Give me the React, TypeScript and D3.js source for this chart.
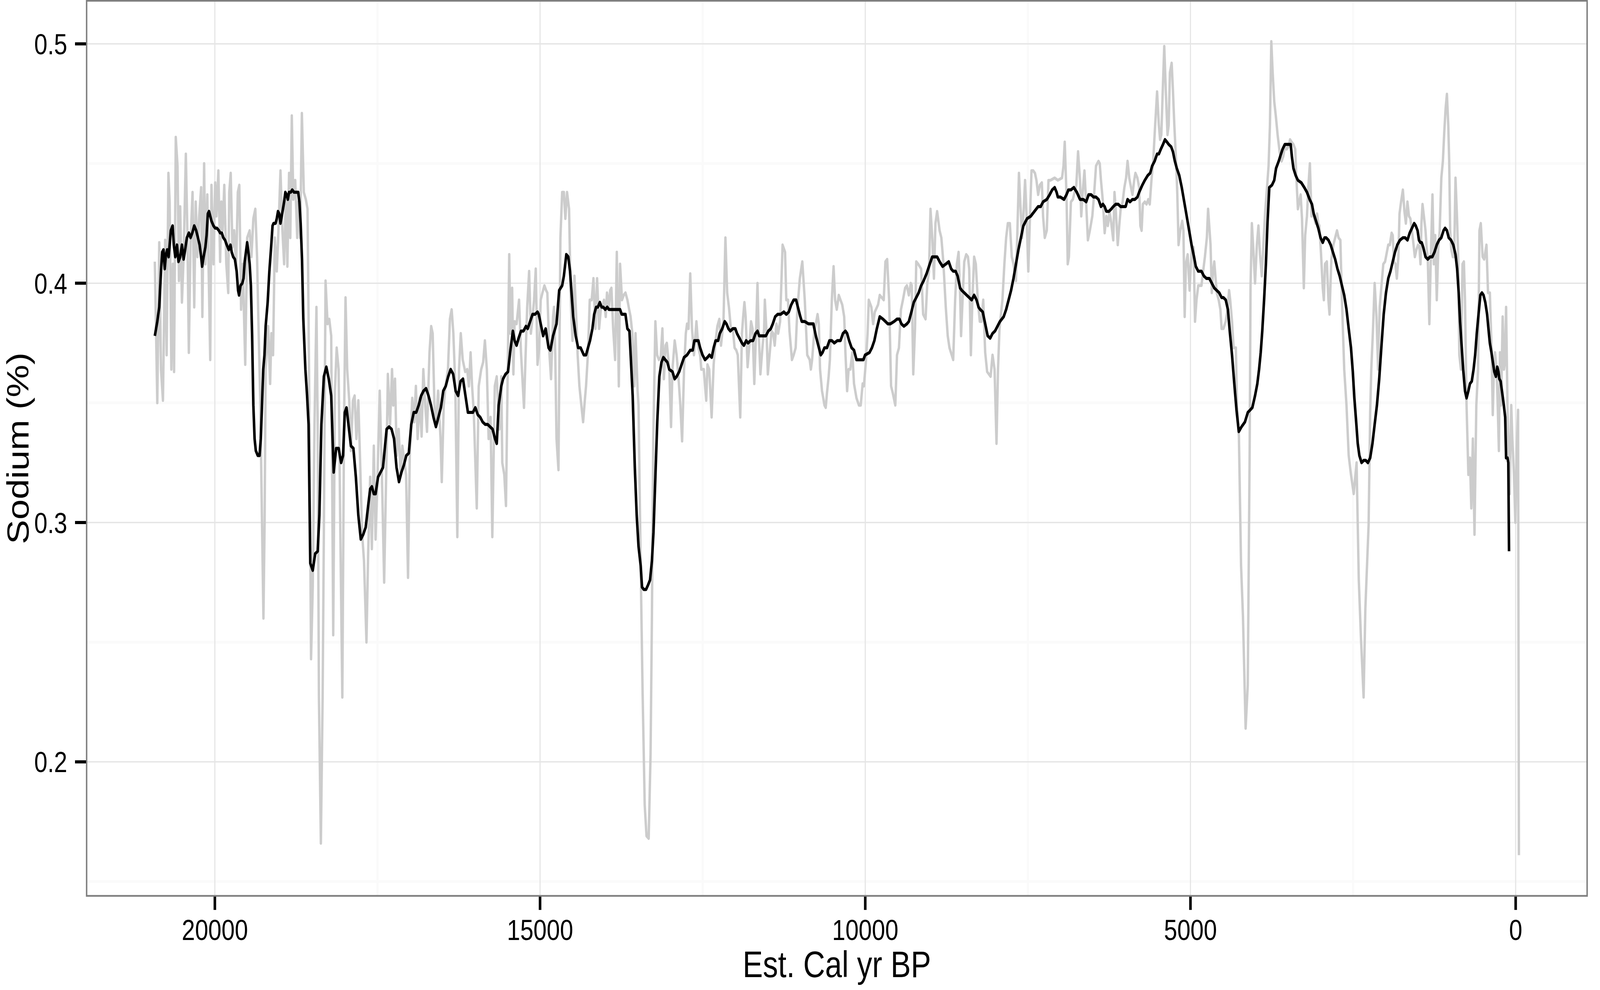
import React from 'react'
import * as d3 from 'd3'

// raw sodium record (grey) : [Est. Cal yr BP, Sodium %]
const sodiumRaw: [number, number][] = [
  [20923,0.409],[20885,0.350],[20855,0.417],[20828,0.364],[20798,0.351],[20764,0.418],[20741,0.370],[20714,0.446],[20695,0.434],[20669,0.364],
  [20646,0.408],[20627,0.363],[20601,0.461],[20574,0.449],[20552,0.401],[20533,0.432],[20506,0.392],[20480,0.411],[20446,0.454],[20423,0.422],
  [20400,0.371],[20374,0.417],[20343,0.438],[20317,0.390],[20294,0.434],[20268,0.411],[20241,0.428],[20211,0.440],[20192,0.386],[20165,0.450],
  [20146,0.408],[20116,0.437],[20071,0.368],[20052,0.441],[20021,0.408],[19995,0.442],[19976,0.428],[19946,0.447],[19919,0.409],[19900,0.434],
  [19881,0.422],[19855,0.441],[19824,0.408],[19794,0.396],[19779,0.438],[19756,0.446],[19730,0.415],[19703,0.422],[19673,0.406],[19647,0.438],
  [19624,0.441],[19597,0.389],[19571,0.408],[19533,0.366],[19503,0.419],[19465,0.422],[19438,0.411],[19408,0.427],[19378,0.431],[19351,0.411],
  [19332,0.386],[19302,0.351],[19275,0.300],[19253,0.260],[19235,0.300],[19219,0.364],[19181,0.382],[19150,0.358],[19131,0.379],[19105,0.370],
  [19078,0.419],[19048,0.405],[19029,0.417],[18991,0.447],[18961,0.422],[18935,0.408],[18908,0.437],[18885,0.407],[18859,0.446],[18840,0.419],
  [18817,0.470],[18794,0.435],[18764,0.443],[18734,0.419],[18715,0.434],[18688,0.419],[18662,0.471],[18632,0.438],[18601,0.435],[18575,0.431],
  [18552,0.364],[18521,0.243],[18495,0.273],[18468,0.341],[18438,0.390],[18419,0.341],[18400,0.227],[18370,0.166],[18343,0.227],[18324,0.296],
  [18298,0.401],[18267,0.383],[18241,0.385],[18211,0.378],[18180,0.253],[18154,0.355],[18127,0.373],[18097,0.364],[18071,0.296],[18040,0.227],
  [18014,0.341],[17991,0.394],[17965,0.364],[17934,0.351],[17908,0.330],[17877,0.351],[17851,0.353],[17824,0.335],[17794,0.351],[17764,0.323],
  [17737,0.296],[17707,0.284],[17669,0.250],[17643,0.287],[17612,0.319],[17586,0.289],[17556,0.332],[17529,0.293],[17499,0.319],[17465,0.355],
  [17434,0.323],[17397,0.275],[17359,0.330],[17340,0.362],[17306,0.341],[17276,0.364],[17257,0.349],[17230,0.360],[17204,0.328],[17174,0.339],
  [17143,0.320],[17117,0.332],[17060,0.320],[17030,0.277],[17003,0.328],[16965,0.352],[16935,0.342],[16909,0.357],[16882,0.335],[16852,0.352],
  [16821,0.336],[16795,0.364],[16765,0.349],[16738,0.338],[16700,0.371],[16674,0.382],[16651,0.379],[16624,0.349],[16598,0.341],[16568,0.355],
  [16530,0.335],[16511,0.317],[16481,0.349],[16454,0.357],[16416,0.364],[16386,0.385],[16359,0.389],[16333,0.379],[16303,0.357],[16272,0.294],
  [16246,0.364],[16219,0.379],[16189,0.368],[16151,0.363],[16121,0.364],[16094,0.357],[16068,0.371],[16045,0.357],[16019,0.346],[15973,0.306],
  [15943,0.357],[15905,0.364],[15875,0.367],[15848,0.376],[15818,0.364],[15791,0.335],[15761,0.344],[15734,0.294],[15696,0.357],[15666,0.361],
  [15626,0.339],[15596,0.361],[15581,0.325],[15550,0.320],[15524,0.307],[15474,0.412],[15456,0.379],[15429,0.398],[15410,0.362],[15391,0.384],
  [15361,0.383],[15323,0.393],[15293,0.371],[15247,0.348],[15221,0.371],[15198,0.390],[15168,0.405],[15141,0.379],[15115,0.386],[15092,0.393],
  [15066,0.406],[15039,0.366],[15013,0.373],[14990,0.393],[14963,0.396],[14933,0.399],[14907,0.397],[14888,0.396],[14857,0.371],[14831,0.360],
  [14800,0.386],[14785,0.390],[14766,0.370],[14747,0.335],[14717,0.322],[14687,0.419],[14660,0.438],[14634,0.438],[14611,0.427],[14585,0.438],
  [14554,0.431],[14528,0.393],[14501,0.376],[14471,0.403],[14444,0.386],[14422,0.370],[14395,0.357],[14365,0.349],[14338,0.342],[14312,0.351],
  [14293,0.357],[14263,0.371],[14236,0.393],[14206,0.393],[14179,0.402],[14149,0.381],[14123,0.402],[14092,0.381],[14066,0.389],[14043,0.390],
  [14017,0.393],[13990,0.386],[13971,0.396],[13941,0.390],[13922,0.397],[13903,0.398],[13876,0.381],[13846,0.368],[13820,0.413],[13789,0.357],
  [13770,0.408],[13740,0.393],[13714,0.395],[13687,0.396],[13657,0.393],[13630,0.389],[13608,0.386],[13581,0.379],[13551,0.357],[13532,0.379],
  [13500,0.355],[13486,0.349],[13453,0.282],[13424,0.230],[13391,0.182],[13363,0.169],[13330,0.168],[13301,0.203],[13280,0.261],[13260,0.334],
  [13227,0.384],[13200,0.370],[13172,0.368],[13145,0.369],[13119,0.381],[13096,0.360],[13070,0.374],[13051,0.375],[13013,0.364],[12986,0.340],
  [12964,0.364],[12930,0.376],[12900,0.370],[12873,0.361],[12843,0.349],[12816,0.334],[12786,0.364],[12759,0.379],[12740,0.383],[12717,0.381],
  [12691,0.404],[12664,0.381],[12634,0.370],[12596,0.384],[12566,0.373],[12539,0.370],[12521,0.364],[12483,0.364],[12445,0.351],[12426,0.366],
  [12399,0.364],[12362,0.344],[12331,0.366],[12301,0.376],[12274,0.382],[12244,0.385],[12218,0.374],[12180,0.384],[12150,0.419],[12123,0.396],
  [12096,0.390],[12066,0.381],[12036,0.381],[12009,0.373],[11983,0.372],[11960,0.370],[11922,0.344],[11896,0.379],[11877,0.386],[11858,0.392],
  [11839,0.386],[11809,0.365],[11782,0.374],[11756,0.384],[11733,0.381],[11706,0.358],[11680,0.379],[11657,0.400],[11638,0.379],[11612,0.362],
  [11581,0.373],[11555,0.381],[11544,0.393],[11517,0.379],[11498,0.362],[11468,0.371],[11441,0.380],[11415,0.379],[11392,0.374],[11366,0.383],
  [11339,0.379],[11309,0.384],[11271,0.416],[11233,0.413],[11214,0.393],[11188,0.393],[11165,0.380],[11127,0.368],[11101,0.370],[11070,0.373],
  [11044,0.389],[11006,0.402],[10968,0.409],[10930,0.393],[10892,0.370],[10854,0.368],[10836,0.364],[10817,0.368],[10786,0.379],[10760,0.383],
  [10733,0.387],[10714,0.383],[10695,0.364],[10665,0.355],[10627,0.349],[10608,0.348],[10589,0.354],[10563,0.361],[10544,0.368],[10514,0.393],
  [10487,0.407],[10464,0.393],[10438,0.389],[10407,0.395],[10381,0.393],[10354,0.391],[10324,0.386],[10305,0.371],[10279,0.355],[10256,0.364],
  [10230,0.364],[10199,0.371],[10173,0.358],[10135,0.352],[10097,0.349],[10070,0.349],[10040,0.358],[10021,0.357],[9991,0.367],[9964,0.379],
  [9946,0.393],[9906,0.390],[9879,0.383],[9853,0.388],[9803,0.391],[9777,0.395],[9716,0.393],[9690,0.409],[9663,0.410],[9633,0.393],
  [9603,0.357],[9576,0.354],[9538,0.349],[9512,0.370],[9482,0.373],[9451,0.389],[9421,0.393],[9387,0.398],[9360,0.399],[9330,0.395],
  [9300,0.400],[9285,0.399],[9262,0.362],[9235,0.381],[9216,0.409],[9186,0.408],[9141,0.406],[9110,0.387],[9073,0.385],[9046,0.400],
  [9020,0.405],[8997,0.431],[8970,0.419],[8944,0.402],[8921,0.425],[8895,0.430],[8857,0.422],[8830,0.419],[8800,0.409],[8762,0.390],
  [8732,0.378],[8705,0.373],[8648,0.368],[8618,0.393],[8592,0.408],[8565,0.413],[8542,0.396],[8527,0.378],[8504,0.393],[8478,0.409],
  [8448,0.412],[8421,0.411],[8402,0.406],[8376,0.370],[8353,0.393],[8326,0.411],[8300,0.408],[8270,0.393],[8239,0.384],[8213,0.384],
  [8186,0.393],[8156,0.371],[8126,0.363],[8073,0.361],[8043,0.370],[8012,0.364],[7982,0.333],[7959,0.364],[7936,0.381],[7891,0.393],
  [7861,0.408],[7834,0.419],[7808,0.425],[7777,0.425],[7747,0.411],[7721,0.408],[7683,0.401],[7664,0.419],[7637,0.446],[7615,0.433],
  [7588,0.419],[7569,0.428],[7543,0.443],[7520,0.428],[7493,0.405],[7467,0.428],[7444,0.447],[7418,0.447],[7391,0.446],[7368,0.443],
  [7342,0.437],[7315,0.441],[7285,0.442],[7266,0.428],[7240,0.419],[7209,0.422],[7183,0.443],[7153,0.443],[7088,0.444],[7039,0.443],
  [6975,0.444],[6952,0.449],[6933,0.459],[6906,0.437],[6887,0.408],[6869,0.411],[6838,0.434],[6808,0.435],[6755,0.441],[6728,0.455],
  [6698,0.443],[6679,0.428],[6660,0.437],[6630,0.447],[6603,0.433],[6577,0.418],[6547,0.422],[6509,0.428],[6482,0.437],[6452,0.449],
  [6414,0.451],[6395,0.450],[6376,0.443],[6346,0.434],[6319,0.421],[6293,0.428],[6270,0.424],[6244,0.430],[6217,0.425],[6187,0.418],
  [6168,0.438],[6149,0.431],[6118,0.416],[6092,0.425],[6073,0.431],[6043,0.434],[6016,0.440],[5990,0.444],[5967,0.451],[5941,0.444],
  [5914,0.440],[5892,0.437],[5865,0.443],[5846,0.446],[5816,0.444],[5789,0.440],[5770,0.424],[5751,0.422],[5732,0.433],[5702,0.434],
  [5676,0.433],[5649,0.435],[5626,0.433],[5600,0.443],[5573,0.451],[5543,0.466],[5513,0.480],[5486,0.466],[5467,0.460],[5448,0.462],
  [5429,0.478],[5403,0.499],[5380,0.481],[5353,0.462],[5335,0.466],[5316,0.488],[5289,0.492],[5270,0.481],[5248,0.466],[5221,0.451],
  [5202,0.437],[5183,0.416],[5157,0.422],[5127,0.426],[5108,0.422],[5089,0.386],[5070,0.408],[5043,0.412],[5013,0.397],[4994,0.408],
  [4975,0.414],[4952,0.415],[4930,0.384],[4907,0.393],[4880,0.399],[4831,0.399],[4805,0.405],[4778,0.411],[4748,0.419],[4729,0.431],
  [4691,0.416],[4672,0.396],[4653,0.405],[4634,0.409],[4596,0.396],[4566,0.393],[4540,0.389],[4521,0.381],[4493,0.381],[4458,0.384],
  [4430,0.389],[4406,0.397],[4389,0.393],[4361,0.384],[4337,0.373],[4302,0.373],[4285,0.349],[4255,0.336],[4222,0.282],[4193,0.261],
  [4152,0.214],[4119,0.232],[4090,0.330],[4076,0.399],[4056,0.425],[4035,0.415],[4007,0.400],[3979,0.416],[3955,0.424],[3931,0.412],
  [3903,0.403],[3879,0.416],[3851,0.430],[3823,0.440],[3799,0.449],[3778,0.466],[3757,0.501],[3736,0.488],[3712,0.476],[3688,0.470],
  [3660,0.462],[3625,0.454],[3598,0.451],[3573,0.453],[3549,0.457],[3521,0.456],[3493,0.457],[3469,0.460],[3445,0.459],[3417,0.458],
  [3389,0.456],[3375,0.446],[3348,0.431],[3327,0.434],[3306,0.437],[3285,0.427],[3257,0.398],[3236,0.420],[3209,0.428],[3188,0.440],
  [3164,0.450],[3139,0.428],[3122,0.429],[3105,0.428],[3077,0.425],[3053,0.429],[3035,0.425],[3018,0.424],[2994,0.413],[2966,0.398],
  [2949,0.393],[2931,0.408],[2903,0.409],[2879,0.393],[2862,0.387],[2834,0.410],[2803,0.416],[2775,0.419],[2747,0.422],[2723,0.419],
  [2695,0.418],[2671,0.393],[2636,0.364],[2601,0.349],[2567,0.328],[2532,0.320],[2490,0.312],[2446,0.325],[2412,0.276],[2379,0.252],
  [2338,0.227],[2311,0.264],[2294,0.276],[2261,0.299],[2237,0.346],[2220,0.364],[2196,0.379],[2168,0.400],[2140,0.386],[2115,0.364],
  [2091,0.390],[2063,0.399],[2035,0.408],[2008,0.409],[1987,0.412],[1959,0.416],[1935,0.416],[1907,0.421],[1890,0.420],[1872,0.409],
  [1848,0.408],[1827,0.402],[1803,0.411],[1786,0.429],[1762,0.434],[1734,0.439],[1710,0.430],[1688,0.425],[1664,0.434],[1640,0.428],
  [1619,0.427],[1595,0.422],[1578,0.418],[1550,0.411],[1526,0.414],[1501,0.416],[1480,0.415],[1463,0.408],[1449,0.425],[1432,0.433],
  [1411,0.428],[1386,0.422],[1369,0.415],[1352,0.411],[1327,0.383],[1307,0.408],[1279,0.437],[1258,0.408],[1237,0.420],[1213,0.393],
  [1189,0.415],[1168,0.422],[1143,0.444],[1119,0.451],[1098,0.463],[1077,0.473],[1057,0.479],[1036,0.466],[1022,0.451],[1007,0.422],
  [990,0.414],[966,0.411],[946,0.411],[925,0.444],[901,0.427],[883,0.411],[866,0.370],[841,0.364],[817,0.408],[796,0.409],
  [779,0.393],[755,0.349],[727,0.320],[703,0.327],[682,0.306],[658,0.335],[633,0.295],[605,0.349],[578,0.364],[557,0.422],
  [536,0.425],[508,0.411],[484,0.410],[449,0.416],[425,0.396],[397,0.396],[369,0.371],[352,0.345],[335,0.364],[317,0.371],
  [293,0.364],[276,0.349],[258,0.330],[241,0.371],[224,0.349],[200,0.386],[179,0.364],[165,0.367],[147,0.390],[126,0.349],
  [113,0.335],[92,0.312],[68,0.349],[51,0.335],[26,0.320],[5,0.300],[-15,0.330],[-37,0.347],[-50,0.161],
]

// smoothed sodium (black)
const sodiumSmooth: [number, number][] = [
  [20923,0.378],[20885,0.384],[20855,0.390],[20828,0.405],[20809,0.413],[20790,0.414],[20771,0.406],[20752,0.412],[20733,0.414],[20711,0.411],
  [20695,0.416],[20677,0.422],[20650,0.424],[20631,0.416],[20608,0.411],[20582,0.416],[20559,0.409],[20533,0.411],[20506,0.416],[20480,0.410],
  [20457,0.414],[20430,0.419],[20400,0.421],[20374,0.419],[20347,0.421],[20317,0.424],[20287,0.422],[20260,0.419],[20234,0.416],[20211,0.411],
  [20196,0.407],[20173,0.411],[20146,0.415],[20127,0.420],[20108,0.429],[20090,0.430],[20071,0.428],[20052,0.426],[20021,0.424],[19995,0.423],
  [19968,0.423],[19938,0.422],[19919,0.421],[19893,0.421],[19870,0.419],[19843,0.418],[19817,0.416],[19787,0.414],[19760,0.416],[19741,0.413],
  [19718,0.411],[19692,0.410],[19665,0.405],[19643,0.397],[19628,0.395],[19605,0.399],[19578,0.400],[19559,0.402],[19541,0.409],[19522,0.413],
  [19503,0.417],[19484,0.413],[19465,0.408],[19446,0.399],[19427,0.378],[19408,0.349],[19389,0.335],[19370,0.330],[19340,0.328],[19313,0.328],
  [19294,0.335],[19275,0.349],[19256,0.364],[19237,0.370],[19219,0.382],[19188,0.392],[19162,0.405],[19135,0.415],[19113,0.424],[19097,0.425],
  [19067,0.425],[19048,0.427],[19029,0.430],[19010,0.429],[18991,0.425],[18972,0.428],[18953,0.431],[18935,0.434],[18916,0.438],[18897,0.437],
  [18878,0.435],[18859,0.438],[18832,0.438],[18810,0.439],[18783,0.438],[18764,0.438],[18738,0.438],[18719,0.438],[18700,0.434],[18681,0.425],
  [18660,0.410],[18640,0.385],[18608,0.364],[18582,0.353],[18559,0.341],[18533,0.283],[18495,0.280],[18457,0.287],[18419,0.288],[18393,0.303],
  [18362,0.341],[18324,0.361],[18286,0.365],[18249,0.360],[18211,0.353],[18173,0.321],[18135,0.331],[18097,0.331],[18059,0.325],[18029,0.328],
  [18002,0.346],[17976,0.348],[17946,0.341],[17908,0.332],[17870,0.331],[17832,0.319],[17794,0.303],[17756,0.293],[17719,0.295],[17681,0.298],
  [17643,0.307],[17612,0.314],[17586,0.315],[17556,0.312],[17529,0.312],[17491,0.319],[17453,0.321],[17415,0.323],[17359,0.339],[17321,0.340],
  [17283,0.339],[17245,0.335],[17207,0.323],[17169,0.317],[17131,0.321],[17094,0.324],[17056,0.328],[17018,0.329],[16980,0.341],[16942,0.346],
  [16904,0.346],[16866,0.349],[16828,0.353],[16791,0.355],[16753,0.356],[16715,0.353],[16677,0.349],[16639,0.344],[16601,0.340],[16563,0.344],
  [16525,0.348],[16488,0.355],[16450,0.357],[16412,0.361],[16374,0.364],[16336,0.362],[16298,0.355],[16260,0.353],[16222,0.359],[16185,0.360],
  [16147,0.353],[16109,0.346],[16071,0.346],[16033,0.346],[15995,0.348],[15957,0.345],[15920,0.344],[15882,0.342],[15844,0.341],[15806,0.341],
  [15768,0.340],[15730,0.339],[15692,0.335],[15666,0.333],[15636,0.349],[15596,0.357],[15569,0.360],[15531,0.362],[15493,0.363],[15456,0.372],
  [15418,0.380],[15391,0.376],[15361,0.374],[15330,0.377],[15293,0.380],[15255,0.380],[15217,0.382],[15190,0.381],[15153,0.384],[15115,0.387],
  [15077,0.387],[15039,0.388],[15020,0.387],[14990,0.383],[14952,0.378],[14914,0.381],[14869,0.373],[14842,0.372],[14800,0.378],[14747,0.383],
  [14706,0.397],[14660,0.399],[14634,0.403],[14596,0.412],[14566,0.411],[14539,0.405],[14516,0.396],[14490,0.386],[14452,0.378],[14414,0.373],
  [14376,0.373],[14327,0.370],[14293,0.370],[14263,0.373],[14232,0.376],[14195,0.381],[14168,0.387],[14138,0.390],[14111,0.390],[14081,0.392],
  [14055,0.390],[14028,0.390],[13998,0.389],[13967,0.390],[13941,0.389],[13914,0.389],[13884,0.389],[13846,0.389],[13801,0.389],[13770,0.389],
  [13744,0.387],[13714,0.387],[13687,0.387],[13657,0.381],[13626,0.380],[13609,0.371],[13576,0.353],[13543,0.323],[13514,0.303],[13486,0.290],
  [13453,0.282],[13432,0.273],[13404,0.272],[13371,0.272],[13338,0.274],[13309,0.276],[13280,0.284],[13256,0.296],[13227,0.319],[13198,0.342],
  [13166,0.361],[13133,0.367],[13104,0.369],[13075,0.368],[13043,0.367],[13014,0.364],[12964,0.363],[12930,0.360],[12900,0.361],[12861,0.363],
  [12824,0.366],[12786,0.369],[12740,0.370],[12691,0.372],[12653,0.372],[12627,0.376],[12596,0.376],[12566,0.376],[12539,0.373],[12502,0.370],
  [12464,0.368],[12426,0.369],[12396,0.370],[12361,0.369],[12331,0.373],[12301,0.376],[12263,0.376],[12237,0.379],[12199,0.381],[12161,0.384],
  [12134,0.383],[12104,0.381],[12074,0.380],[12036,0.381],[11998,0.381],[11972,0.379],[11934,0.377],[11896,0.375],[11866,0.374],[11831,0.376],
  [11801,0.375],[11763,0.376],[11725,0.376],[11687,0.379],[11657,0.380],[11631,0.378],[11604,0.378],[11566,0.378],[11528,0.378],[11490,0.380],
  [11453,0.381],[11422,0.383],[11385,0.386],[11347,0.387],[11301,0.387],[11252,0.388],[11214,0.387],[11176,0.388],[11138,0.391],[11101,0.393],
  [11063,0.393],[11036,0.390],[10998,0.386],[10976,0.384],[10930,0.384],[10873,0.383],[10836,0.383],[10798,0.383],[10760,0.378],[10722,0.374],
  [10684,0.370],[10658,0.371],[10627,0.373],[10589,0.373],[10551,0.376],[10514,0.376],[10476,0.375],[10430,0.376],[10381,0.376],[10343,0.379],
  [10305,0.380],[10279,0.379],[10248,0.376],[10210,0.373],[10173,0.372],[10135,0.368],[10097,0.368],[10059,0.368],[10029,0.368],[10002,0.370],
  [9936,0.371],[9898,0.373],[9860,0.376],[9822,0.381],[9777,0.386],[9728,0.385],[9690,0.384],[9652,0.383],[9614,0.383],[9557,0.384],
  [9512,0.385],[9474,0.385],[9444,0.383],[9406,0.382],[9360,0.383],[9330,0.384],[9300,0.387],[9254,0.392],[9216,0.394],[9179,0.396],
  [9141,0.399],[9103,0.401],[9057,0.404],[9008,0.408],[8970,0.411],[8932,0.411],[8895,0.411],[8857,0.409],[8811,0.407],[8762,0.408],
  [8717,0.409],[8679,0.406],[8648,0.405],[8611,0.405],[8580,0.403],[8542,0.398],[8516,0.397],[8478,0.396],[8440,0.395],[8402,0.394],
  [8364,0.393],[8326,0.395],[8289,0.393],[8258,0.390],[8232,0.389],[8194,0.388],[8156,0.383],[8118,0.378],[8080,0.377],[8043,0.379],
  [8005,0.380],[7967,0.382],[7929,0.384],[7872,0.386],[7834,0.389],[7796,0.393],[7758,0.397],[7721,0.402],[7683,0.408],[7645,0.414],
  [7607,0.419],[7569,0.424],[7512,0.427],[7455,0.428],[7399,0.430],[7342,0.432],[7304,0.432],[7266,0.434],[7209,0.435],[7164,0.437],
  [7126,0.439],[7088,0.440],[7058,0.438],[7039,0.436],[7001,0.436],[6944,0.435],[6906,0.437],[6876,0.439],[6838,0.439],[6793,0.440],
  [6747,0.438],[6698,0.435],[6649,0.435],[6603,0.434],[6566,0.437],[6528,0.437],[6490,0.436],[6452,0.436],[6414,0.435],[6376,0.432],
  [6346,0.433],[6319,0.432],[6293,0.430],[6255,0.430],[6217,0.431],[6187,0.432],[6149,0.433],[6111,0.433],[6073,0.432],[6035,0.432],
  [5997,0.432],[5967,0.435],[5929,0.434],[5892,0.435],[5854,0.435],[5816,0.436],[5789,0.438],[5740,0.441],[5702,0.443],[5657,0.445],
  [5619,0.446],[5589,0.449],[5551,0.451],[5513,0.454],[5486,0.454],[5456,0.456],[5422,0.458],[5392,0.460],[5361,0.459],[5335,0.458],
  [5297,0.457],[5270,0.455],[5240,0.451],[5210,0.448],[5172,0.445],[5134,0.440],[5096,0.434],[5058,0.428],[5020,0.422],[4983,0.416],
  [4945,0.411],[4918,0.407],[4880,0.405],[4831,0.405],[4793,0.403],[4755,0.402],[4710,0.402],[4672,0.400],[4634,0.398],[4596,0.397],
  [4558,0.396],[4521,0.394],[4493,0.394],[4458,0.393],[4424,0.389],[4396,0.380],[4361,0.370],[4326,0.358],[4292,0.347],[4257,0.338],
  [4215,0.340],[4163,0.342],[4118,0.346],[4083,0.347],[4049,0.348],[4007,0.353],[3972,0.358],[3945,0.364],[3920,0.371],[3896,0.380],
  [3868,0.393],[3840,0.408],[3816,0.425],[3788,0.440],[3747,0.441],[3712,0.443],[3684,0.448],[3643,0.451],[3608,0.454],[3584,0.456],
  [3549,0.458],[3514,0.458],[3479,0.458],[3459,0.458],[3441,0.453],[3417,0.448],[3382,0.445],[3348,0.443],[3296,0.442],[3250,0.440],
  [3209,0.438],[3167,0.435],[3132,0.433],[3105,0.429],[3070,0.426],[3035,0.423],[3000,0.419],[2966,0.417],[2938,0.419],[2914,0.419],
  [2879,0.418],[2844,0.416],[2810,0.413],[2775,0.410],[2740,0.406],[2706,0.403],[2671,0.399],[2636,0.395],[2601,0.389],[2567,0.381],
  [2532,0.373],[2504,0.363],[2480,0.352],[2452,0.342],[2428,0.333],[2403,0.328],[2369,0.325],[2334,0.326],[2306,0.326],[2272,0.325],
  [2237,0.327],[2202,0.333],[2168,0.341],[2133,0.349],[2098,0.360],[2063,0.374],[2029,0.387],[1994,0.396],[1959,0.402],[1925,0.405],
  [1890,0.409],[1855,0.413],[1820,0.416],[1779,0.418],[1734,0.419],[1699,0.419],[1664,0.418],[1629,0.421],[1595,0.423],[1560,0.425],
  [1536,0.424],[1508,0.422],[1487,0.418],[1466,0.417],[1445,0.417],[1421,0.415],[1386,0.411],[1352,0.410],[1317,0.411],[1282,0.411],
  [1248,0.413],[1213,0.416],[1178,0.418],[1144,0.419],[1109,0.422],[1085,0.423],[1057,0.422],[1029,0.419],[994,0.418],[959,0.416],
  [925,0.412],[900,0.406],[876,0.396],[855,0.384],[831,0.374],[807,0.364],[779,0.355],[755,0.352],[727,0.355],[703,0.358],
  [675,0.359],[647,0.364],[623,0.370],[598,0.379],[571,0.387],[543,0.395],[519,0.396],[494,0.395],[467,0.392],[439,0.387],
  [415,0.380],[397,0.375],[372,0.371],[345,0.366],[328,0.363],[303,0.361],[283,0.365],[265,0.363],[251,0.360],[231,0.359],
  [206,0.354],[182,0.349],[161,0.344],[147,0.327],[126,0.327],[113,0.325],[102,0.288],
]

const xTicks = [20000, 15000, 10000, 5000, 0]
const xMinor = [17500, 12500, 7500, 2500]
const yTicks = [0.2, 0.3, 0.4, 0.5]
const yMinor = [0.15, 0.25, 0.35, 0.45]
const xTitle = 'Est. Cal yr BP'
const yTitle = 'Sodium (%)'

// drawing is laid out in the reference's own pixel grid, then scaled to the window
const W = 4969
const H = 2535
const panel = { left: 269, right: 4929, top: 2, bottom: 2294 }
const font = '"Liberation Sans", Arial, Helvetica, sans-serif'

const App = () => {
  // ggplot style 5% expansion on both axes
  const [x0, x1] = d3.extent(sodiumRaw, d => d[0]) as [number, number]
  const padX = (x1 - x0) * 0.05
  const x = d3.scaleLinear().domain([x1 + padX, x0 - padX]).range([panel.left, panel.right])

  const [y0, y1] = d3.extent(sodiumRaw, d => d[1]) as [number, number]
  const padY = (y1 - y0) * 0.05
  const y = d3.scaleLinear().domain([y0 - padY, y1 + padY]).range([panel.bottom, panel.top])

  const line = d3.line<[number, number]>().x(d => x(d[0])).y(d => y(d[1]))

  return (
    <svg viewBox={`0 0 ${W} ${H}`} preserveAspectRatio="none"
      style={{ position: 'fixed', left: 0, top: 0, width: '100vw', height: '100vh', display: 'block', background: '#fff' }}>
      <rect x={0} y={0} width={W} height={H} fill="#fff" />
      {/* minor grid */}
      {xMinor.map(t => (
        <line key={'xm' + t} x1={x(t)} x2={x(t)} y1={panel.top} y2={panel.bottom} stroke="#fafafa" strokeWidth={7} />
      ))}
      {yMinor.map(t => (
        <line key={'ym' + t} x1={panel.left} x2={panel.right} y1={y(t)} y2={y(t)} stroke="#fafafa" strokeWidth={7} />
      ))}
      {/* major grid */}
      {xTicks.map(t => (
        <line key={'xg' + t} x1={x(t)} x2={x(t)} y1={panel.top} y2={panel.bottom} stroke="#e5e5e5" strokeWidth={3.5} />
      ))}
      {yTicks.map(t => (
        <line key={'yg' + t} x1={panel.left} x2={panel.right} y1={y(t)} y2={y(t)} stroke="#e5e5e5" strokeWidth={3.5} />
      ))}

      <path d={line(sodiumRaw) ?? ''} fill="none" stroke="#cccccc" strokeWidth={7.5} strokeLinejoin="round" />
      <path d={line(sodiumSmooth) ?? ''} fill="none" stroke="#000" strokeWidth={8} strokeLinejoin="round" />

      <rect x={panel.left} y={panel.top} width={panel.right - panel.left} height={panel.bottom - panel.top}
        fill="none" stroke="#7f7f7f" strokeWidth={4.5} />

      {/* x axis */}
      {xTicks.map(t => (
        <g key={'xt' + t}>
          <line x1={x(t)} x2={x(t)} y1={panel.bottom + 2} y2={panel.bottom + 36} stroke="#000" strokeWidth={8} />
          <text x={x(t)} y={2407} textAnchor="middle" fontFamily={font} fontSize={74} fill="#000">{t}</text>
        </g>
      ))}
      {/* y axis */}
      {yTicks.map(t => (
        <g key={'yt' + t}>
          <line x1={panel.left - 2} x2={panel.left - 36} y1={y(t)} y2={y(t)} stroke="#000" strokeWidth={8} />
          <text x={209} y={y(t)} dy="0.36em" textAnchor="end" fontFamily={font} fontSize={74} fill="#000">{t.toFixed(1)}</text>
        </g>
      ))}

      <text x={(panel.left + panel.right) / 2} y={2502} textAnchor="middle" fontFamily={font} fontSize={94} fill="#000">{xTitle}</text>
      <text transform={`translate(88,${(panel.top + panel.bottom) / 2}) rotate(-90)`} textAnchor="middle"
        fontFamily={font} fontSize={94} fill="#000">{yTitle}</text>
    </svg>
  )
}

export default App
